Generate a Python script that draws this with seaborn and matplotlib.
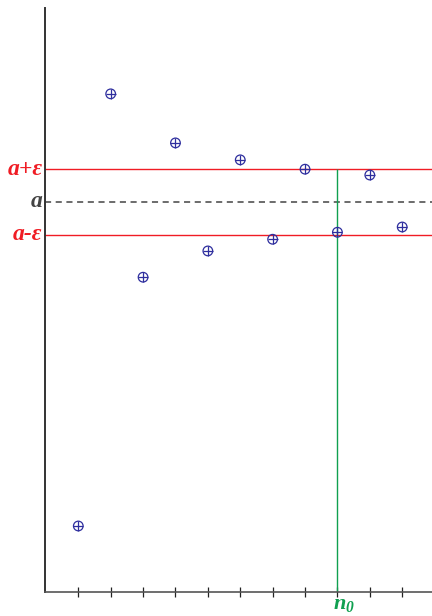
import numpy as np
import pandas as pd
import matplotlib
matplotlib.use('Agg')
import matplotlib.pyplot as plt
import seaborn as sns

sns.set_style('white')
plt.rcParams['mathtext.fontset'] = 'custom'
plt.rcParams['mathtext.rm'] = 'Liberation Serif'
plt.rcParams['mathtext.it'] = 'Liberation Serif:italic'
plt.rcParams['mathtext.bf'] = 'Liberation Serif:bold'
plt.rcParams['mathtext.bfit'] = 'Liberation Serif:italic:bold'

# 数列各项 (n, a_n)
n_values = [1, 2, 3, 4, 5, 6, 7, 8, 9, 10, 11]
a_values = [1.13, 8.53, 5.39, 7.69, 5.84, 7.40, 6.04, 7.24, 6.16, 7.14, 6.25]
a_limit = 6.68   # 极限 a
eps = 0.56       # ε
n0 = 9           # n_0

df = pd.DataFrame({'n': n_values, 'a_n': a_values})

fig = plt.figure(figsize=(4.32, 6.16), dpi=100)
ax = fig.add_axes([0.104, 0.039, 0.896, 0.948])

serif = ['Liberation Serif', 'DejaVu Serif']
red = '#f01c24'
blue = '#2e2e9e'
green = '#10a050'

# ε 带与极限线
ax.axhline(a_limit + eps, color=red, lw=1)
ax.axhline(a_limit - eps, color=red, lw=1)
ax.axhline(a_limit, color='#444444', lw=1.1, ls=(0, (4, 3)))
ax.vlines(n0, 0, a_limit + eps, color=green, lw=1)

# 数列的点：圆圈加十字
sns.scatterplot(data=df, x='n', y='a_n', ax=ax, marker='o', s=48,
                facecolors='none', edgecolor=blue, linewidth=0.9, zorder=3)
sns.scatterplot(data=df, x='n', y='a_n', ax=ax, marker='+', s=48,
                color=blue, linewidth=0.9, zorder=3)

ax.set_xlim(-0.03, 11.92)
ax.set_ylim(0, 10)
ax.set_xticks(n_values)
ax.set_xticklabels([])
ax.set_yticks([])
ax.tick_params(axis='x', bottom=True, direction='inout', length=7,
               width=0.9, color='#222222')
ax.set_xlabel('')
ax.set_ylabel('')
for s in ['top', 'right']:
    ax.spines[s].set_visible(False)
ax.spines['left'].set_color('#333333')
ax.spines['left'].set_linewidth(1.4)
ax.spines['bottom'].set_color('#555555')
ax.spines['bottom'].set_linewidth(1.2)

# 左侧标签
lab = dict(ha='right', va='center', fontsize=17, fontweight='bold',
           fontstyle='italic', family=serif, clip_on=False)
ax.text(-0.1, a_limit + eps, 'a+ε', color=red, **lab)
ax.text(-0.1, a_limit, 'a', color='#444444', **lab)
ax.text(-0.1, a_limit - eps, 'a-ε', color=red, **lab)

# n_0 标签
ax.text(n0 - 0.15, -0.04, r'$\mathbfit{n}_{\mathbfit{0}}$', color=green,
        ha='left', va='top', fontsize=16, clip_on=False)

plt.savefig('out.png', dpi=100)
